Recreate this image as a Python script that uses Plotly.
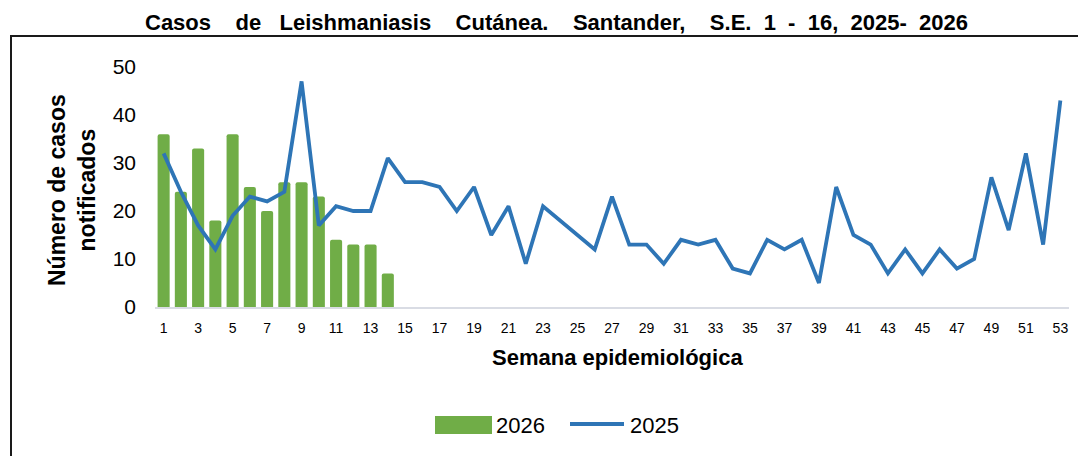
import plotly.graph_objects as go

weeks_2026 = list(range(1, 15))
cases_2026 = [36, 24, 33, 18, 36, 25, 20, 26, 26, 23, 14, 13, 13, 7]

weeks_2025 = list(range(1, 54))
cases_2025 = [32, 24, 17, 12, 19, 23, 22, 24, 47, 17,
              21, 20, 20, 31, 26, 26, 25, 20, 25, 15,
              21, 9, 21, 18, 15, 12, 23, 13, 13, 9,
              14, 13, 14, 8, 7, 14, 12, 14, 5, 25,
              15, 13, 7, 12, 7, 12, 8, 10, 27, 16,
              32, 13, 43]

tick_weeks = list(range(1, 54, 2))
tick_labels = [str(w) for w in tick_weeks]

NB = "\u00a0"
title_text = ("Casos" + NB * 4 + "de" + NB * 3 + "Leishmaniasis" + NB * 4 + "Cutánea." + NB * 4 +
              "Santander," + NB * 4 + "S.E." + NB * 2 + "1" + NB * 2 + "-" + NB * 2 + "16," +
              NB * 2 + "2025-" + NB * 2 + "2026")

OFF = 8  # browser body margin
W, H = 1086 - OFF, 456 - OFF


def fx(px):
    return px - OFF


def fy(py):
    return py - OFF


plot_l, plot_r, plot_t, plot_b = fx(155), fx(1069), fy(67), fy(307)
L, R, T, B = plot_l, W - plot_r, plot_t, H - plot_b
pw, ph = plot_r - plot_l, plot_b - plot_t


def px2x(px):
    return (fx(px) - plot_l) / pw


def py2y(py):
    return (plot_b - fy(py)) / ph


FONT = "Liberation Sans, Arial, sans-serif"

fig = go.Figure()
fig.add_trace(go.Bar(
    x=weeks_2026, y=cases_2026, name="2026", showlegend=False,
    marker=dict(color="#70AD47", line=dict(width=0), cornerradius=2),
))
fig.add_trace(go.Scatter(
    x=weeks_2025, y=cases_2025, name="2025", mode="lines", showlegend=False,
    line=dict(color="#2E75B6", width=3.8),
))

annotations = [
    dict(text="<b>" + title_text + "</b>", xref="paper", yref="paper",
         x=px2x(556), y=py2y(OFF + 1), xanchor="center", yanchor="top", showarrow=False,
         borderpad=0, font=dict(size=22, color="black")),
    dict(text="<b>Número de casos<br>notificados</b>", xref="paper", yref="paper",
         x=px2x(72), y=py2y(190), xanchor="center", yanchor="middle", showarrow=False,
         textangle=-90, font=dict(size=23, color="black")),
    dict(text="<b>Semana epidemiológica</b>", xref="paper", yref="paper",
         x=px2x(617), y=py2y(357), xanchor="center", yanchor="middle", showarrow=False,
         font=dict(size=22, color="black")),
    dict(text="2026", xref="paper", yref="paper", x=px2x(494), y=py2y(425),
         xanchor="left", yanchor="middle", showarrow=False, font=dict(size=22, color="black")),
    dict(text="2025", xref="paper", yref="paper", x=px2x(628), y=py2y(425),
         xanchor="left", yanchor="middle", showarrow=False, font=dict(size=22, color="black")),
]

shapes = [
    dict(type="rect", xref="paper", yref="paper",
         x0=px2x(11), x1=px2x(1120), y0=py2y(480), y1=py2y(36),
         line=dict(color="#1a1a1a", width=2), fillcolor="rgba(0,0,0,0)", layer="below"),
    # legend swatches
    dict(type="rect", xref="paper", yref="paper",
         x0=px2x(435), x1=px2x(492), y0=py2y(434), y1=py2y(416),
         line=dict(width=0), fillcolor="#70AD47"),
    dict(type="line", xref="paper", yref="paper",
         x0=px2x(570), x1=px2x(624), y0=py2y(424), y1=py2y(424),
         line=dict(color="#2E75B6", width=3.8)),
]

fig.update_layout(
    width=W, height=H,
    margin=dict(l=L, r=R, t=T, b=B, autoexpand=False),
    paper_bgcolor="white", plot_bgcolor="white",
    font=dict(family=FONT, color="black"),
    bargap=0.3,
    showlegend=False,
    annotations=annotations,
    shapes=shapes,
    xaxis=dict(
        range=[0.5, 53.5], tickmode="array", tickvals=tick_weeks, ticktext=tick_labels,
        showgrid=False, zeroline=False, showline=True, linecolor="#D9DCE4", linewidth=2,
        ticks="", tickfont=dict(size=14), ticklabelstandoff=7,
        automargin=False,
    ),
    yaxis=dict(
        range=[0, 50], tickvals=[0, 10, 20, 30, 40, 50], showgrid=False, zeroline=False,
        showline=False, ticks="", tickfont=dict(size=21), ticklabelstandoff=18,
        automargin=False,
    ),
)

fig.write_html("out.html")
